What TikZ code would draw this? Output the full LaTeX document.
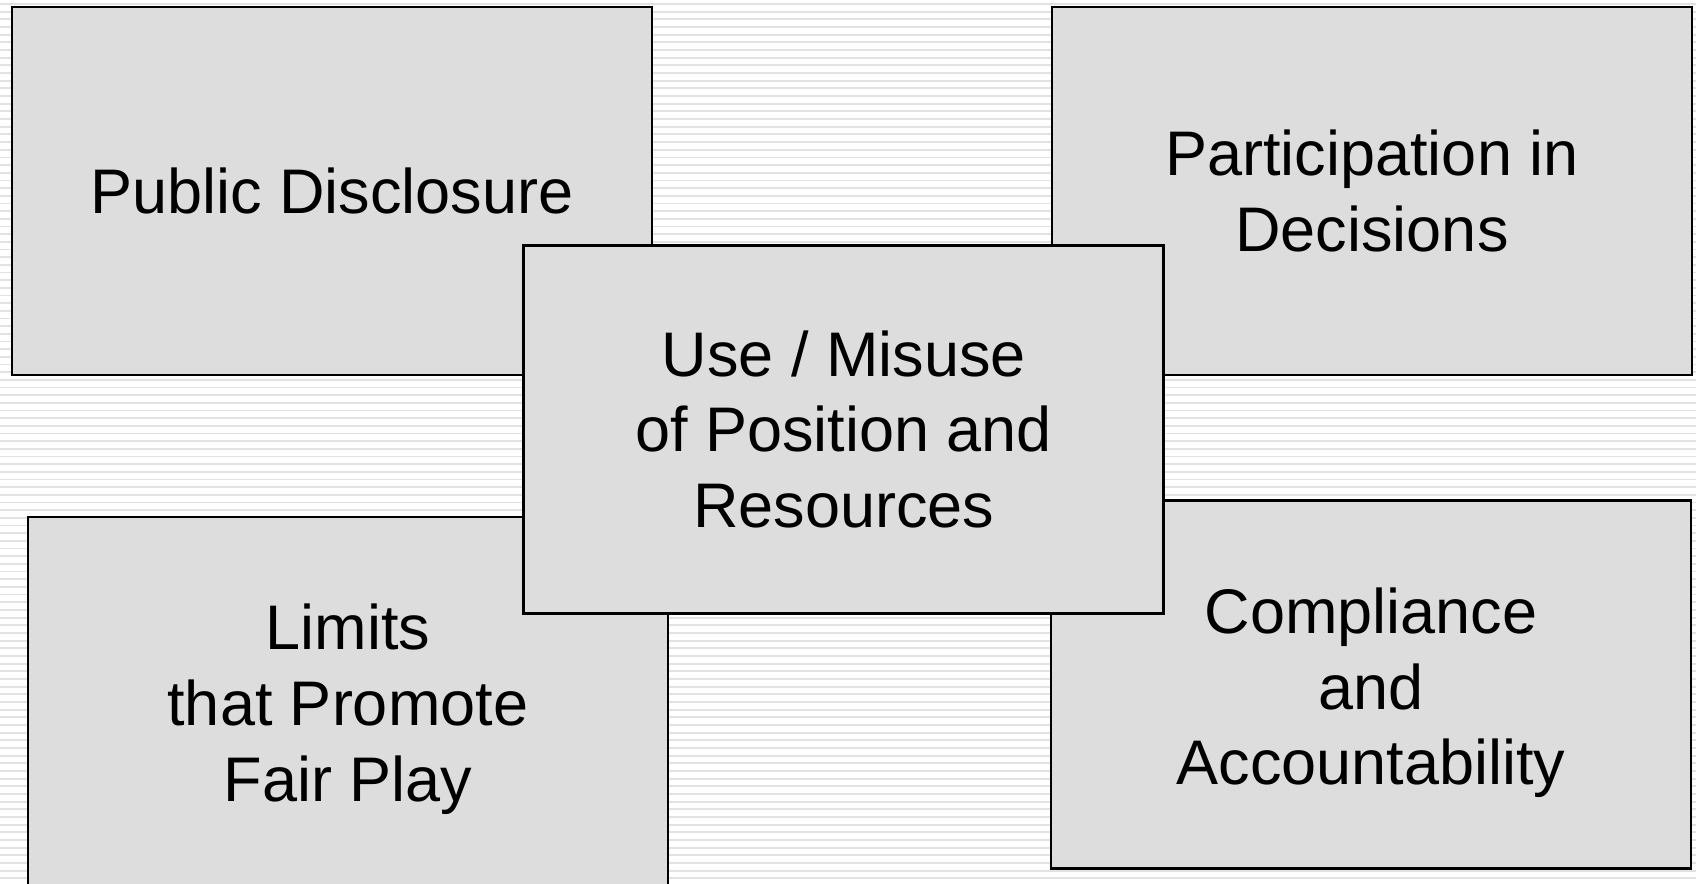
\documentclass[tikz,border=0pt]{standalone}
\usepackage{fontspec}
\setmainfont{Liberation Sans}

\definecolor{boxgray}{HTML}{DDDDDD}
\definecolor{stripegray}{HTML}{E2E2E2}
\newcommand\lowerfirst{\rule{0pt}{31pt}}

\tikzset{
  topic/.style={draw=black, line width=1.2pt, fill=boxgray, align=center,
    minimum width=320pt, minimum height=184pt, inner sep=0pt,
    font=\fontsize{31.5pt}{37.8pt}\selectfont},
  stripe/.style={draw=stripegray, line width=0.9pt}
}

\begin{document}
\begin{tikzpicture}
    \useasboundingbox (0pt,0pt) rectangle (848pt,-441.5pt);
    \fill[white] (0pt,0pt) rectangle (848pt,-441.5pt);

    % striped background
    \foreach \i in {0,...,115} \draw[stripe] (0pt,{-2pt-\i*3.835pt})
    -- (848pt,{-2pt-\i*3.835pt});

    \node[topic] (disclosure) at (166pt,-95.5pt) {Public Disclosure};
    \node[topic] (participation) at (686pt,-95.5pt)
    {Participation in\\Decisions};
    \node[topic] (limits) at (173.9pt,-350.5pt)
    {\lowerfirst Limits\\that Promote\\Fair Play};
    \node[topic] (compliance) at (685.5pt,-342.3pt)
    {\lowerfirst Compliance\\and\\Accountability};

    \node[topic] (misuse) at (421.8pt,-214.7pt)
    {Use / Misuse\\of Position and\\Resources};
  \end{tikzpicture}
\end{document}
